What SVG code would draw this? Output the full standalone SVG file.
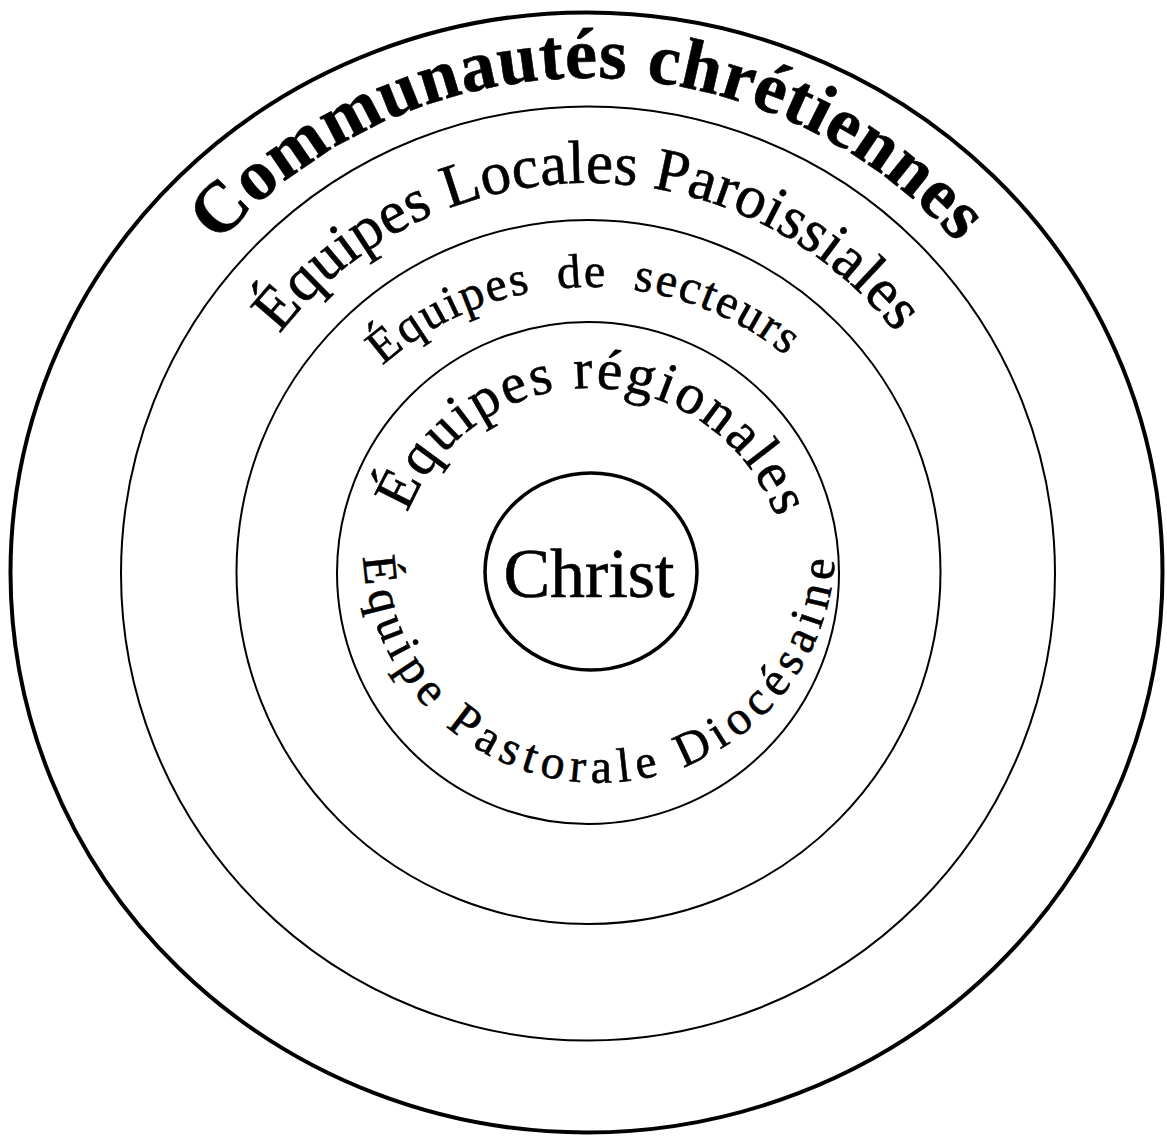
<svg xmlns="http://www.w3.org/2000/svg" xmlns:xlink="http://www.w3.org/1999/xlink" width="1167" height="1136" viewBox="0 0 1167 1136">
<style>
.ring{fill:none;stroke:#000;}
.lbl{font-family:"Liberation Serif","DejaVu Serif",serif;fill:#000;stroke:#000;stroke-width:0.6;}
</style>
<defs>
<path id="p1" d="M218.4,243.7 A495,495 0 0 1 957.6,243.7"/>
<path id="p2" d="M279.6,334.2 A390,390 0 0 1 896.4,334.2"/>
<path id="p3" d="M382.6,365.6 A313,313 0 0 1 785.7,355.7"/>
<path id="p4" d="M407.7,512.8 A197,197 0 0 1 776.1,517.6"/>
<path id="p5" d="M363.2,556.9 A236,236 0 0 0 834.6,560.2"/>
</defs>
<rect width="1167" height="1136" fill="#fff"/>
<g id="ring-communautes">
<ellipse class="ring" cx="586.5" cy="572.5" rx="576" ry="560" stroke-width="4"/>
<text class="lbl" font-size="72" font-weight="bold" textLength="834" lengthAdjust="spacing"><textPath xlink:href="#p1" href="#p1">Communautés chrétiennes</textPath></text>
</g>
<g id="ring-locales">
<circle class="ring" cx="588" cy="573.5" r="467" stroke-width="2"/>
<text class="lbl" font-size="61" textLength="710" lengthAdjust="spacing"><textPath xlink:href="#p2" href="#p2">Équipes Locales Paroissiales</textPath></text>
</g>
<g id="ring-secteurs">
<circle class="ring" cx="588.5" cy="572" r="352" stroke-width="2"/>
<text class="lbl" font-size="48" word-spacing="12" textLength="438" lengthAdjust="spacing"><textPath xlink:href="#p3" href="#p3">Équipes de secteurs</textPath></text>
</g>
<g id="ring-regionales">
<circle class="ring" cx="588" cy="573" r="251" stroke-width="2"/>
<text class="lbl" font-size="57" textLength="476" lengthAdjust="spacing"><textPath xlink:href="#p4" href="#p4">Équipes régionales</textPath></text>
<text class="lbl" font-size="48" textLength="718" lengthAdjust="spacing"><textPath xlink:href="#p5" href="#p5">Équipe Pastorale Diocésaine</textPath></text>
</g>
<g id="christ">
<ellipse class="ring" cx="591" cy="571.5" rx="106" ry="98.5" stroke-width="3.5"/>
<text class="lbl" x="589" y="597" font-size="70" text-anchor="middle">Christ</text>
</g>
<g id="connectors"></g>
</svg>
